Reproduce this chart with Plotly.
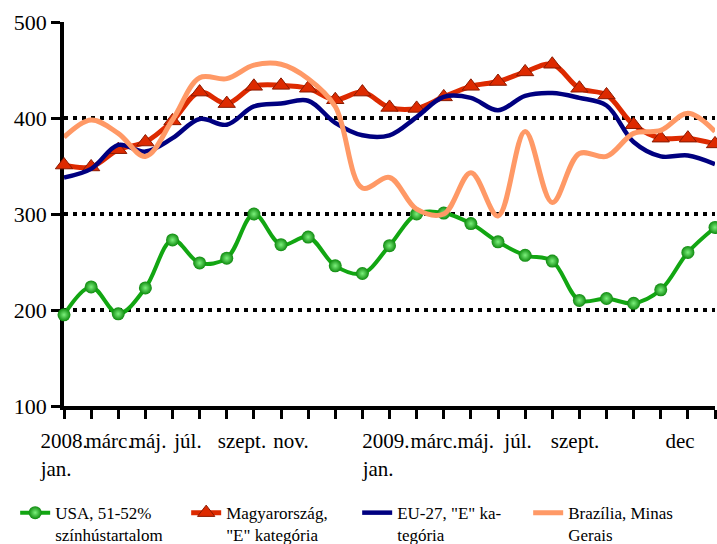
import plotly.graph_objects as go

months = list(range(25))  # 2008 jan .. 2010 jan
usa = [195, 224, 196, 223, 273, 249, 254, 300, 268, 276, 246, 238, 267, 300, 301,
       290, 271, 257, 251, 210, 212, 207, 221, 260, 286]
hu = [351, 349, 367, 375, 397, 427, 415, 433, 434, 431, 419, 427, 411, 410, 422,
      433, 438, 448, 456, 431, 424, 393, 379, 379, 373]
eu = [338, 347, 372, 365, 379, 399, 393, 412, 415, 418, 395, 382, 382, 401, 422,
      421, 408, 423, 426, 421, 413, 375, 360, 361, 352]
br = [380, 398, 384, 360, 398, 442, 441, 455, 456, 441, 412, 327, 338, 305, 300,
      343, 298, 386, 312, 363, 360, 384, 387, 405, 386]

names = ["USA, 51-52%<br>színhústartalom", "Magyarország,<br>\"E\" kategória",
         "EU-27, \"E\" ka-<br>tegória", "Brazília, Minas<br>Gerais"]

tick_pos = [0, 1.66, 3.1, 4.57, 6.56, 8.37, 11.87, 13.64, 15.18, 16.74, 18.84, 22.71]
tick_txt = ["2008.<br>jan.\u00a0\u00a0\u00a0", "márc.", "máj.", "júl.",
            "szept.", "nov.", "2009.<br>jan.\u00a0\u00a0\u00a0", "márc.", "máj.", "júl.",
            "szept.", "dec"]
y_ticks = [100, 200, 300, 400, 500]

FONT = "Liberation Serif, DejaVu Serif, serif"

fig = go.Figure()
fig.add_trace(go.Scatter(
    x=months, y=usa, name=names[0], mode="lines+markers",
    line=dict(color="#12A612", width=4, shape="spline", smoothing=1),
    marker=dict(symbol="circle", size=13, color="#0E8A0E",
                gradient=dict(type="radial", color="#7CF07C"),
                line=dict(width=0)),
    cliponaxis=False))
fig.add_trace(go.Scatter(
    x=months, y=hu, name=names[1], mode="lines+markers",
    line=dict(color="#DD2A00", width=5, shape="spline", smoothing=1),
    marker=dict(symbol="triangle-up", size=15, color="#DD2A00",
                line=dict(width=1, color="#8A1A00")),
    cliponaxis=False))
fig.add_trace(go.Scatter(
    x=months, y=eu, name=names[2], mode="lines",
    line=dict(color="#000080", width=4.5, shape="spline", smoothing=1),
    cliponaxis=False))
fig.add_trace(go.Scatter(
    x=months, y=br, name=names[3], mode="lines",
    line=dict(color="#FF9966", width=5, shape="spline", smoothing=1),
    cliponaxis=False))

fig.update_layout(
    width=717, height=544,
    margin=dict(l=64, r=2, t=22, b=138, autoexpand=False),
    paper_bgcolor="white", plot_bgcolor="white",
    font=dict(family=FONT, color="black", size=20),
    showlegend=True,
    legend=dict(orientation="h", x=-0.075, y=-0.232, xanchor="left", yanchor="top",
                entrywidth=126, entrywidthmode="pixels", valign="top",
                font=dict(family=FONT, size=17, color="black"),
                itemwidth=30, tracegroupgap=0, bgcolor="rgba(0,0,0,0)"),
)
fig.update_xaxes(
    range=[0, 24], showgrid=False, zeroline=False, automargin=False,
    showline=True, linecolor="black", linewidth=4, layer="below traces",
    tickmode="array", tickvals=tick_pos, ticktext=tick_txt, ticks="",
    tickangle=0, ticklabelstandoff=13,
    tickfont=dict(family=FONT, size=21, color="black"),
    minor=dict(ticks="outside", ticklen=9, tickwidth=3, tickcolor="black",
               tickmode="linear", tick0=0, dtick=1, showgrid=False),
)
fig.update_yaxes(
    range=[100, 500], tickmode="array", tickvals=y_ticks, automargin=False,
    showgrid=True, gridcolor="black", gridwidth=3.5, griddash="4px,5px",
    zeroline=False, showline=True, linecolor="black", linewidth=3.5,
    layer="below traces",
    ticks="outside", ticklen=9, tickwidth=3, tickcolor="black",
    tickfont=dict(family=FONT, size=22, color="black"),
)

fig.write_html("out.html", config={"displayModeBar": False},
               post_script="document.body.style.margin='0';document.body.style.overflow='hidden';")
